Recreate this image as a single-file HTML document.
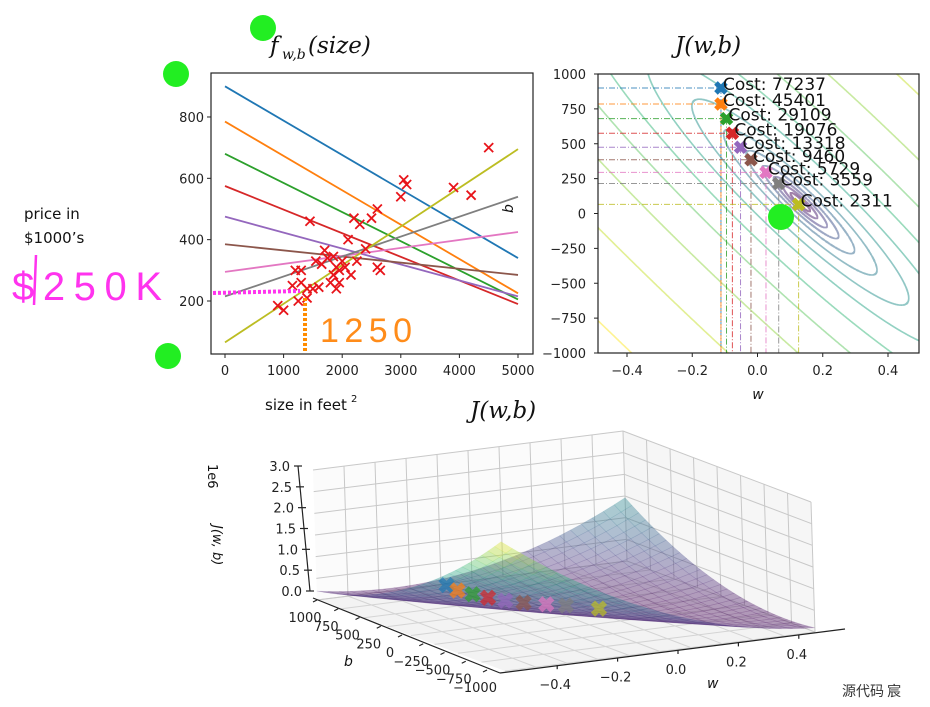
<!DOCTYPE html>
<html style="margin:0;width:930px;height:707px;overflow:hidden"><head><meta charset="utf-8"><style>
body{margin:0;background:#fff;width:930px;height:707px;overflow:hidden;position:relative;font-family:"DejaVu Sans","Liberation Sans",sans-serif}
svg{position:absolute;left:0;top:0;display:block}
</style></head><body>
<svg id="s" width="930" height="707" viewBox="0 0 930 707" xmlns="http://www.w3.org/2000/svg">
<defs>
<clipPath id="c1"><rect x="211" y="73" width="322" height="281"/></clipPath>
<clipPath id="c2"><rect x="598" y="74" width="321" height="279"/></clipPath>
</defs>
<g id="left"></g>
<g id="right"></g>
<g id="bot"></g>
<g id="ann"></g>
</svg>
<script>
// ---- data ----
const sizes=[900,1000,1150,1200,1250,1300,1300,1400,1400,1450,1500,1550,1600,1650,1700,1750,1800,1850,1850,1900,1900,1950,1950,2000,2050,2100,2150,2200,2250,2300,2400,2500,2600,2600,2650,3000,3050,3100,3900,4200,4500];
const prices=[185,170,250,300,200,260,300,210,240,460,240,330,245,320,365,340,260,285,345,310,240,260,300,330,310,400,285,470,330,450,370,470,500,310,300,540,595,580,570,545,700];
const gdW=[-0.112,-0.112,-0.095,-0.077,-0.052,-0.02,0.026,0.065,0.126];
const gdB=[900,785,680,575,475,385,295,215,65];
const gdCost=[77237,45401,29109,19076,13318,9460,5729,3559,2311];
const xTicks=[0,1000,2000,3000,4000,5000];
const yTicks=[200,400,600,800];
const wTicks=[-0.4,-0.2,0.0,0.2,0.4];
const bTicks=[-1000,-750,-500,-250,0,250,500,750,1000];
const zTicks=[0,0.5,1.0,1.5,2.0,2.5,3.0];
const contourOffsets=[300,900,2200,4500,9000,18000,36000,72000,150000,300000,600000,1200000,2400000];
const colors=['#1f77b4','#ff7f0e','#2ca02c','#d62728','#9467bd','#8c564b','#e377c2','#7f7f7f','#bcbd22'];

const NS='http://www.w3.org/2000/svg';
function el(tag,attrs,parent,txt){const e=document.createElementNS(NS,tag);for(const k in attrs)e.setAttribute(k,attrs[k]);if(txt!==undefined)e.textContent=txt;parent.appendChild(e);return e;}
const vir=[[68,1,84],[72,40,120],[62,74,137],[49,104,142],[38,130,142],[31,158,137],[53,183,121],[109,205,89],[180,222,44],[253,231,37]];
function viridis(t){t=Math.max(0,Math.min(1,t))*9;const i=Math.min(8,Math.floor(t)),f=t-i;const a=vir[i],b=vir[i+1];return 'rgb('+a.map((v,k)=>Math.round(v+(b[k]-v)*f)).join(',')+')';}
function fmt(v){return String(v).replace('-','\u2212');}
function fmt1(v){return v.toFixed(1).replace('-','\u2212');}
const m=sizes.length;
function cost(w,b){let s=0;for(let i=0;i<m;i++){const e=w*sizes[i]+b-prices[i];s+=e*e;}return s/(2*m);}

// ---- left chart ----
const L=document.getElementById('left');
const X1=s=>225+s*(293/5000), Y1=p=>301-(p-200)*0.3067;
el('rect',{x:211,y:73,width:322,height:281,fill:'#fff',stroke:'#222','stroke-width':1.2},L);
xTicks.forEach(t=>{const x=X1(t);el('line',{x1:x,x2:x,y1:354,y2:358,stroke:'#222'},L);
 const tx=el('text',{x:x,y:375,'font-size':13,'text-anchor':'middle',fill:'#222'},L,t);
 });
yTicks.forEach(t=>{const y=Y1(t);el('line',{x1:207,x2:211,y1:y,y2:y,stroke:'#222'},L);
 const tx=el('text',{x:204,y:y+5,'font-size':13,'text-anchor':'end',fill:'#222'},L,t);
 });
const gl=el('g',{'clip-path':'url(#c1)'},L);
gdW.forEach((w,i)=>{const ln=el('line',{x1:X1(0),y1:Y1(gdB[i]),x2:X1(5000),y2:Y1(gdB[i]+w*5000),stroke:colors[i],'stroke-width':1.8},gl);
 });
sizes.forEach((s,i)=>{const x=X1(s),y=Y1(prices[i]),r=4.5;
 const g=el('path',{d:`M${x-r},${y-r}L${x+r},${y+r}M${x-r},${y+r}L${x+r},${y-r}`,stroke:'#e8141a','stroke-width':1.8},gl);
 });
el('text',{x:270,y:53,'font-size':23,'font-style':'italic','font-family':'"DejaVu Serif","Liberation Serif",serif',fill:'#111',},L,'f');
el('text',{x:282,y:59,'font-size':14,'font-style':'italic','font-family':'"DejaVu Serif","Liberation Serif",serif',fill:'#111'},L,'w,b');
el('text',{x:308,y:53,'font-size':23,'font-style':'italic','font-family':'"DejaVu Serif","Liberation Serif",serif',fill:'#111'},L,'(size)');
el('text',{x:24,y:219,'font-size':15,fill:'#111',},L,'price in');
el('text',{x:24,y:243,'font-size':15,fill:'#111'},L,'$1000\u2019s');
el('text',{x:265,y:410,'font-size':15,fill:'#111',},L,'size in feet');
el('text',{x:351,y:402,'font-size':10,fill:'#111'},L,'2');

// ---- right chart ----
const R=document.getElementById('right');
const kw=326.25,kb=0.1395,cxp=757.5,cyp=213.5;
const X2=w=>cxp+w*kw, Y2=b=>cyp-b*kb;
el('rect',{x:598,y:74,width:321,height:279,fill:'#fff'},R);
const gc=el('g',{'clip-path':'url(#c2)'},R);
let Sx=0,Sxx=0,Sy=0,Sxy=0;for(let i=0;i<m;i++){Sx+=sizes[i];Sxx+=sizes[i]*sizes[i];Sy+=prices[i];Sxy+=sizes[i]*prices[i];}
const det=Sxx*m-Sx*Sx,wStar=(Sxy*m-Sx*Sy)/det,bStar=(Sxx*Sy-Sx*Sxy)/det,Jmin=cost(wStar,bStar);
const a11=Sxx/(kw*kw),a22=m/(kb*kb),a12=-Sx/(kw*kb);
const th=0.5*Math.atan2(2*a12,a11-a22);
const mid=(a11+a22)/2,rad=Math.sqrt(((a11-a22)/2)**2+a12*a12);
const l1=mid+rad,l2=Math.max(mid-rad,1e-12);
const bx0=597,bx1=920,by0=73,by1=354;
contourOffsets.forEach((off,i)=>{const K=2*m*off;const rx=Math.sqrt(K/l1),ry=Math.sqrt(K/l2);
 const cx=X2(wStar),cy=Y2(bStar),ct=Math.cos(th),st=Math.sin(th);
 let d='',pen=false;const NSeg=4000;
 for(let k=0;k<=NSeg;k++){const a=2*Math.PI*k/NSeg;const ex=rx*Math.cos(a),ey=ry*Math.sin(a);
  const x=cx+ex*ct-ey*st,y=cy+ex*st+ey*ct;
  if(x>=bx0&&x<=bx1&&y>=by0&&y<=by1){d+=(pen?'L':'M')+x.toFixed(1)+','+y.toFixed(1);pen=true;}else pen=false;}
 if(!d)return;
 const e=el('path',{d:d,fill:'none',stroke:viridis(i/(contourOffsets.length-1)),'stroke-width':1.6,'stroke-opacity':0.5},gc);
 });
gdW.forEach((w,i)=>{const x=X2(w),y=Y2(gdB[i]);
 el('line',{x1:598,y1:y,x2:x,y2:y,stroke:colors[i],'stroke-width':1,'stroke-dasharray':'6 2 1 2','opacity':0.8},gc);
 el('line',{x1:x,y1:y,x2:x,y2:353,stroke:colors[i],'stroke-width':1,'stroke-dasharray':'6 2 1 2','opacity':0.8},gc);});
gdW.forEach((w,i)=>{const x=X2(w),y=Y2(gdB[i]),r=5;
 const mk=el('path',{d:`M${x-r},${y-r}L${x+r},${y+r}M${x-r},${y+r}L${x+r},${y-r}`,stroke:colors[i],'stroke-width':5},R);
 
 const t=el('text',{x:x+2,y:y+2,'font-size':17,fill:'#111'},R,'Cost: '+gdCost[i]);
 });
el('rect',{x:598,y:74,width:321,height:279,fill:'none',stroke:'#222','stroke-width':1.2},R);
wTicks.forEach(t=>{const x=X2(t);el('line',{x1:x,x2:x,y1:353,y2:357,stroke:'#222'},R);
 el('text',{x:x,y:375,'font-size':13,'text-anchor':'middle',fill:'#222'},R,fmt1(t));});
bTicks.forEach(t=>{const y=Y2(t);el('line',{x1:594,x2:598,y1:y,y2:y,stroke:'#222'},R);
 el('text',{x:586,y:y+5,'font-size':13,'text-anchor':'end',fill:'#222'},R,fmt(t));});
el('text',{x:675,y:53,'font-size':23,'font-style':'italic','font-family':'"DejaVu Serif","Liberation Serif",serif',fill:'#111',},R,'J(w,b)');
el('text',{x:758,y:399,'font-size':14,'font-style':'italic','text-anchor':'middle',fill:'#111',},R,'w');
el('text',{x:0,y:0,'font-size':14,'font-style':'italic',transform:'translate(513,213) rotate(-90)',fill:'#111',},R,'b');

// ---- 3D ----
const B=document.getElementById('bot');
const F=[505,671],PL=[317,600],PR=[815,632],Zv=[-4,-130];
function P(w,b,z){const u=w+0.5,v=(b+1000)/2000,t=z/3e6;return [F[0]+u*(PR[0]-F[0])+v*(PL[0]-F[0])+t*Zv[0],F[1]+u*(PR[1]-F[1])+v*(PL[1]-F[1])+t*Zv[1]];}
function poly(pts,attrs){attrs.points=pts.map(p=>p.join(',')).join(' ');return el('polygon',attrs,B);}
poly([P(-0.5,1000,0),P(0.5,1000,0),P(0.5,1000,3e6),P(-0.5,1000,3e6)],{fill:'#fbfbfb',stroke:'none'});
poly([P(0.5,1000,0),P(0.5,-1000,0),P(0.5,-1000,3e6),P(0.5,1000,3e6)],{fill:'#f6f6f6',stroke:'none'});
poly([P(-0.5,1000,0),P(0.5,1000,0),P(0.5,-1000,0),P(-0.5,-1000,0)],{fill:'#f3f3f3',stroke:'none'});
function ln(a,b,st,sw){return el('line',{x1:a[0],y1:a[1],x2:b[0],y2:b[1],stroke:st,'stroke-width':sw},B);}
const gridW=[-0.4,-0.3,-0.2,-0.1,0,0.1,0.2,0.3,0.4];
gridW.forEach(w=>{ln(P(w,1000,0),P(w,1000,3e6),'#c8c8c8',1);ln(P(w,1000,0),P(w,-1000,0),'#d4d4d4',1);});
bTicks.forEach(b=>{ln(P(0.5,b,0),P(0.5,b,3e6),'#c8c8c8',1);ln(P(-0.5,b,0),P(0.5,b,0),'#d4d4d4',1);});
zTicks.forEach(z=>{ln(P(-0.5,1000,z*1e6),P(0.5,1000,z*1e6),'#c8c8c8',1);ln(P(0.5,1000,z*1e6),P(0.5,-1000,z*1e6),'#c8c8c8',1);});
// surface
const N=28,quads=[];
for(let i=0;i<N;i++)for(let j=0;j<N;j++){const w0=-0.5+i/N,w1=-0.5+(i+1)/N,b0=-1000+2000*j/N,b1=-1000+2000*(j+1)/N;
 const zs=[cost(w0,b0),cost(w1,b0),cost(w1,b1),cost(w0,b1)];quads.push({w0,w1,b0,b1,zs,d:(i+j)});}
quads.sort((a,b)=>b.d-a.d);
const zmax=Math.max(...quads.map(q=>Math.max(...q.zs)));
quads.forEach(q=>{const zm=(q.zs[0]+q.zs[1]+q.zs[2]+q.zs[3])/4;const c=viridis(zm/zmax);
 const pts=[P(q.w0,q.b0,q.zs[0]),P(q.w1,q.b0,q.zs[1]),P(q.w1,q.b1,q.zs[2]),P(q.w0,q.b1,q.zs[3])];
 const pg=poly(pts,{fill:c,'fill-opacity':0.38,stroke:c,'stroke-opacity':0.15,'stroke-width':0.6});
 });
gdW.forEach((w,i)=>{const [x,y]=P(w,gdB[i],gdCost[i]),r=6;
 const mk=el('path',{d:`M${x-r},${y-r}L${x+r},${y+r}M${x-r},${y+r}L${x+r},${y-r}`,stroke:colors[i],'stroke-width':6,'stroke-opacity':0.7},B);
 });
// axes
ln([310,591],[298,466],'#222',1.2);
zTicks.forEach((z,i)=>{const y=591-125*z/3,x=310-12*z/3;ln([x-4,y],[x+4,y],'#222',1.2);
 el('text',{x:x-8,y:y+5,'font-size':13,'text-anchor':'end',fill:'#222'},B,z.toFixed(1));});
ln([313,598],[500,673],'#222',1.2);
bTicks.forEach(b=>{const v=(1000-b)/2000;const x=317+v*170,y=600+v*70;ln([x,y],[x-4,y+2],'#222',1.2);
 el('text',{x:x-12,y:y+22,'font-size':13,'text-anchor':'middle',fill:'#222'},B,fmt(b));});
ln([500,673],[845,629],'#222',1.2);
wTicks.forEach(w=>{const x=678+w*302,y=650-w*38;ln([x,y],[x,y+4],'#222',1.2);
 el('text',{x:x-2,y:y+24,'font-size':13,'text-anchor':'middle',fill:'#222'},B,fmt1(w));});
el('text',{x:707,y:688,'font-size':14,'font-style':'italic',fill:'#111',},B,'w');
el('text',{x:344,y:666,'font-size':14,'font-style':'italic',fill:'#111',},B,'b');
el('text',{x:0,y:0,'font-size':13,transform:'translate(208,464) rotate(90)',fill:'#111'},B,'1e6');
el('text',{x:0,y:0,'font-size':13,'font-style':'italic',transform:'translate(213,525) rotate(90)',fill:'#111',},B,'J(w, b)');
el('text',{x:470,y:418,'font-size':23,'font-style':'italic','font-family':'"DejaVu Serif","Liberation Serif",serif',fill:'#111',},B,'J(w,b)');
el('text',{x:842,y:696,'font-size':14,'font-family':'"Noto Sans CJK SC","WenQuanYi Zen Hei",sans-serif',fill:'#333',},B,'源代码  宸');

// ---- annotations ----
const A=document.getElementById('ann');
[[263,28],[176,74],[168,356],[781,217]].forEach(p=>{const c=el('circle',{cx:p[0],cy:p[1],r:13,fill:'#22ee22'},A);
 });
el('line',{x1:213,y1:293,x2:300,y2:291,stroke:'#ff33ee','stroke-width':4,'stroke-dasharray':'3 2'},A);
el('line',{x1:305,y1:298,x2:305,y2:352,stroke:'#ff8c00','stroke-width':4,'stroke-dasharray':'3 2'},A);
el('text',{x:12,y:300,'font-size':40,fill:'#ff33ee','font-family':'"Liberation Sans",sans-serif','textLength':150,},A,'$250K');
el('line',{x1:36,y1:255,x2:34,y2:305,stroke:'#ff33ee','stroke-width':2.5},A);
el('text',{x:320,y:342,'font-size':34,fill:'#ff8c1a','font-family':'"Liberation Sans",sans-serif','textLength':92,},A,'1250');
</script>
</body></html>
